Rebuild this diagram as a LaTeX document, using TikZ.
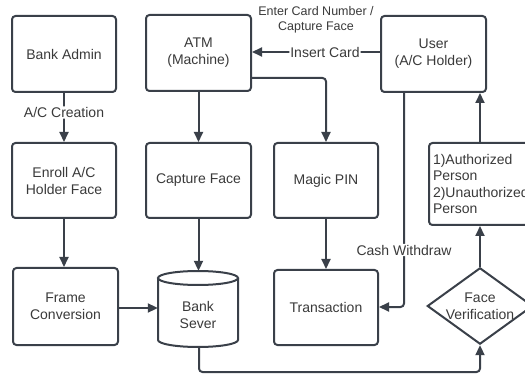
\documentclass[tikz,border=0pt]{standalone}
\usepackage{fontspec}
\setmainfont{Liberation Sans}
\usetikzlibrary{arrows.meta,shapes.geometric}
\definecolor{ln}{HTML}{3A4049}
\definecolor{tx}{HTML}{3A3A3A}
\tikzset{
  box/.style={draw=ln,line width=2pt,rounded corners=3.5pt,minimum width=104pt,minimum height=76pt,inner sep=0pt,align=center,text=tx,font=\fontsize{14}{17}\selectfont},
  conn/.style={draw=ln,line width=2pt,-{Triangle[length=10pt,width=9pt]},rounded corners=3.5pt},
  lbl/.style={fill=white,text=tx,inner sep=1pt,font=\fontsize{14}{17}\selectfont},
}
\begin{document}
\begin{tikzpicture}[x=1pt,y=-1pt]
\useasboundingbox (0,0) rectangle (525,374);
\clip (0,0) rectangle (525,374);
\fill[white] (0,0) rectangle (525,374);
% helper coordinates
\coordinate (xcash) at (404,0);
\coordinate (xbank) at (199,0);
\coordinate (xface) at (480,0);
\coordinate (ybot) at (0,372);
\coordinate (yins) at (0,52);
\coordinate (ymag) at (0,78);
\coordinate (yfr) at (0,308);
\coordinate (ytr) at (0,307);
% nodes
\node[box] (admin) at (64,54) {Bank Admin};
\node[box,minimum width=105pt] (atm) at (198.5,53) {ATM\\(Machine)};
\node[box,minimum width=105pt] (user) at (433.5,54) {User\\(A/C Holder)};
\node[box,minimum height=75pt] (enroll) at (64,180.5) {Enroll A/C\\Holder Face};
\node[box,minimum width=105pt,minimum height=75pt] (capture) at (198.5,180.5) {Capture Face};
\node[box,minimum height=75pt] (magic) at (326,180.5) {Magic PIN};
\node[box,minimum width=105pt,minimum height=82pt,align=left,text width=97pt,inner xsep=4pt,font=\fontsize{14}{16.5}\selectfont] (auth) at (481.5,184) {1)Authorized\\Person\\2)Unauthorized\\Person};
\node[box,minimum width=105pt,minimum height=77pt] (frame) at (65.5,306.5) {Frame\\Conversion};
\node[inner sep=0pt,minimum width=80pt,minimum height=76pt] (bank) at (198,309) {};
\draw[ln,line width=2pt] (198,278) ellipse[x radius=40pt,y radius=7pt];
\draw[ln,line width=2pt] (158,278) -- (158,340) arc[start angle=180,end angle=360,x radius=40pt,y radius=7pt] -- (238,278);
\node[text=tx,align=center,inner sep=0pt,font=\fontsize{14}{17}\selectfont] (banktext) at (198,315) {Bank\\Sever};
\node[box,minimum height=75pt] (trans) at (326,307.5) {Transaction};
\node[draw=ln,line width=2pt,diamond,aspect=1.38,minimum width=102pt,minimum height=74pt,inner sep=0pt,align=center,text=tx,font=\fontsize{14}{17}\selectfont] (face) at (480,306) {Face\\Verification};
\node[text=tx,align=center,inner sep=0pt,font=\fontsize{12.5}{15}\selectfont] (enter) at (316,19.5) {Enter Card Number /\\Capture Face};
% connectors
\draw[conn] (admin.south) -- (enroll.north) node[lbl,pos=0.4] {A/C Creation};
\draw[conn] (atm.south) -- (atm.south |- capture.north);
\draw[conn] (capture.south) -- (capture.south |- bank.north);
\draw[conn] (enroll.south) -- (enroll.south |- frame.north);
\draw[conn] (frame.east |- yfr) -- (bank.west |- yfr);
\draw[conn] (magic.south) -- (trans.north);
\draw[conn] (user.west |- yins) -- (atm.east |- yins) node[lbl,pos=0.43] {Insert Card};
\draw[conn] (atm.east |- ymag) -| (magic.north);
\draw[conn] (xcash |- user.south) |- (trans.east |- ytr) node[lbl,pos=0.367] {Cash Withdraw};
\draw[conn] (xbank |- bank.south) |- (xface |- ybot) -- (face.south);
\draw[conn] (face.north) -- (face.north |- auth.south);
\draw[conn] (xface |- auth.north) -- (xface |- user.south);
\end{tikzpicture}
\end{document}
